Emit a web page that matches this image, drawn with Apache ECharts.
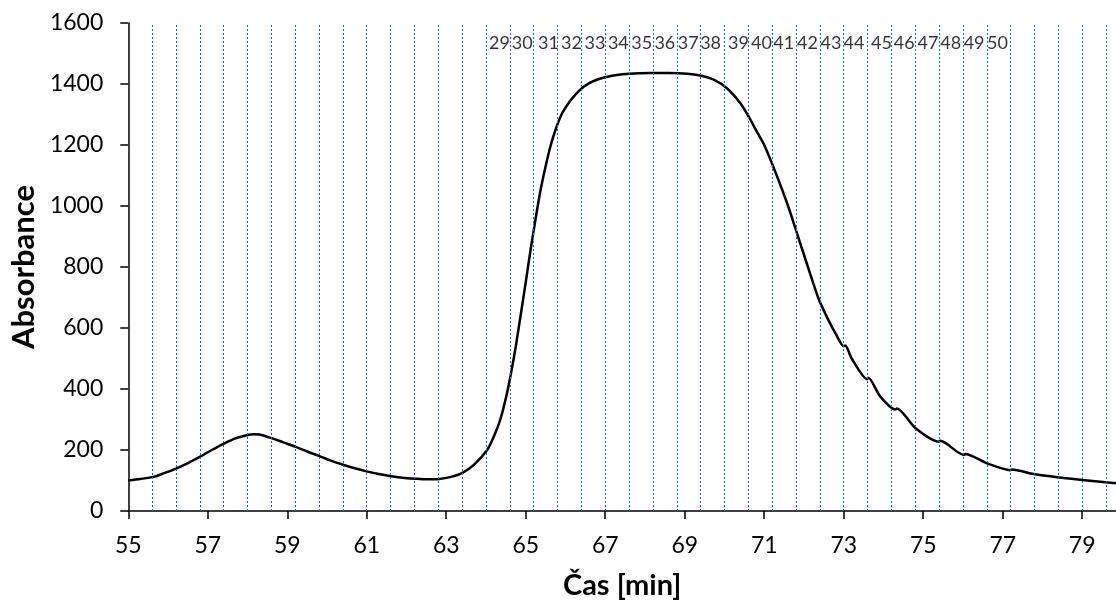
<!DOCTYPE html>
<html>
<head>
<meta charset="utf-8">
<script src="https://cdn.jsdelivr.net/npm/echarts@6/dist/echarts.min.js"></script>
<style>
html,body{margin:0;padding:0;background:#fff;}
#chart{width:1116px;height:606px;}
</style>
</head>
<body>
<div id="chart"></div>
<script>
// Time axis (min) and absorbance values
const times = [55.0, 55.3, 55.64, 55.9, 56.22, 56.5, 56.81, 57.1, 57.42, 57.7, 58.03, 58.15, 58.3, 58.63, 58.9, 59.22, 59.5, 59.81, 60.1, 60.42, 60.7, 61.02, 61.3, 61.62, 61.9, 62.21, 62.5, 62.82, 63.1, 63.41, 63.7, 64.03, 64.2, 64.36, 64.5, 64.62, 64.75, 64.87, 65.0, 65.12, 65.25, 65.37, 65.5, 65.62, 65.75, 65.9, 66.08, 66.25, 66.42, 66.6, 66.79, 67.0, 67.25, 67.6, 68.14, 68.6, 69.06, 69.39, 69.73, 70.06, 70.4, 70.61, 70.8, 71.0, 71.3, 71.6, 71.85, 72.1, 72.37, 72.6, 72.79, 73.0, 73.04, 73.2, 73.59, 73.62, 73.92, 74.3, 74.34, 74.8, 75.39, 75.43, 76.02, 76.06, 76.61, 77.19, 77.23, 77.78, 78.41, 79.0, 79.85];
const absorbance = [100, 105, 112, 124, 140, 157, 178, 200, 222, 238, 250, 252, 251, 238, 225, 210, 195, 180, 165, 151, 140, 129, 121, 114, 109, 106, 104, 105, 111, 125, 152, 200, 245, 300, 370, 445, 540, 640, 750, 855, 960, 1050, 1130, 1195, 1250, 1300, 1338, 1365, 1387, 1403, 1414, 1422, 1429, 1434, 1436, 1436, 1434, 1428, 1414, 1386, 1337, 1293, 1247, 1200, 1105, 1000, 900, 800, 695, 630, 583, 540, 543, 500, 432, 437, 375, 333, 336, 272, 227, 230, 184, 187, 156, 134, 136, 121, 110, 102, 91];

// Fraction boundaries (vertical dotted lines) and fraction numbers
const fractionBounds = [55.6, 56.2, 56.8, 57.4, 58.0, 58.6, 59.2, 59.8, 60.4, 61.0, 61.6, 62.2, 62.8, 63.4, 64.0, 64.6, 65.2, 65.8, 66.4, 67.0, 67.6, 68.2, 68.8, 69.4, 70.0, 70.6, 71.2, 71.8, 72.4, 73.0, 73.6, 74.2, 74.8, 75.4, 76.0, 76.6, 77.2, 77.8, 78.4, 79.0, 79.6];
const fractionNumbers = [29, 30, 31, 32, 33, 34, 35, 36, 37, 38, 39, 40, 41, 42, 43, 44, 45, 46, 47, 48, 49, 50];
const fractionLabelX = [64.34, 64.91, 65.57, 66.15, 66.74, 67.33, 67.92, 68.5, 69.09, 69.65, 70.35, 70.93, 71.49, 72.09, 72.68, 73.26, 73.95, 74.52, 75.12, 75.69, 76.28, 76.87];
const fractionLabelY = 1533;

// Axis ticks
const xTickValues = [55, 57, 59, 61, 63, 65, 67, 69, 71, 73, 75, 77, 79];
const yTicks = {min: 0, max: 1600, interval: 200};

const FONT = 'Lato';
const chart = echarts.init(document.getElementById('chart'), null, {renderer: 'canvas'});

const option = {
  animation: false,
  backgroundColor: '#fff',
  grid: {left: 128, right: 0, top: 23, bottom: 95, containLabel: false},
  xAxis: {
    type: 'value',
    min: 55,
    max: 79.85,
    name: 'Čas [min]',
    nameLocation: 'middle',
    nameGap: 60,
    nameTextStyle: {fontFamily: FONT, fontWeight: 'bold', fontSize: 29, color: '#000'},
    axisLine: {show: true, onZero: false, lineStyle: {color: '#000', width: 1.5}},
    axisTick: {show: true, inside: false, length: 8, customValues: xTickValues, lineStyle: {color: '#000', width: 1.5}},
    axisLabel: {customValues: xTickValues, margin: 23, fontFamily: FONT, fontSize: 23, color: '#000', formatter: v => String(v)},
    splitLine: {show: false}
  },
  yAxis: {
    type: 'value',
    min: yTicks.min,
    max: yTicks.max,
    interval: yTicks.interval,
    name: 'Absorbance',
    nameLocation: 'middle',
    nameRotate: 90,
    nameGap: 88,
    nameTextStyle: {fontFamily: FONT, fontWeight: 'bold', fontSize: 31, color: '#000'},
    axisLine: {show: true, lineStyle: {color: '#000', width: 1.5}},
    axisTick: {show: true, inside: false, length: 8, lineStyle: {color: '#000', width: 1.5}},
    axisLabel: {margin: 25, fontFamily: FONT, fontSize: 23, color: '#000', formatter: v => String(v)},
    splitLine: {show: false}
  },
  series: [
    {
      name: 'bounds',
      type: 'line',
      data: [],
      z: 1,
      markLine: {
        silent: true,
        symbol: ['none', 'none'],
        label: {show: false},
        lineStyle: {color: '#0070C0', type: [2, 2], width: 1},
        data: fractionBounds.map(v => ({xAxis: v}))
      }
    },
    {
      name: 'Absorbance',
      type: 'line',
      z: 3,
      data: times.map((t, i) => [t, absorbance[i]]),
      showSymbol: false,
      smooth: 0.25,
      lineStyle: {color: '#000', width: 2.5}
    },
    {
      name: 'fractions',
      type: 'scatter',
      z: 4,
      symbolSize: 0,
      data: fractionNumbers.map((n, i) => ({name: String(n), value: [fractionLabelX[i], fractionLabelY]})),
      label: {show: true, position: 'inside', formatter: p => p.name, fontFamily: FONT, fontSize: 18, color: '#000'}
    }
  ]
};
chart.setOption(option);
</script>
</body>
</html>
